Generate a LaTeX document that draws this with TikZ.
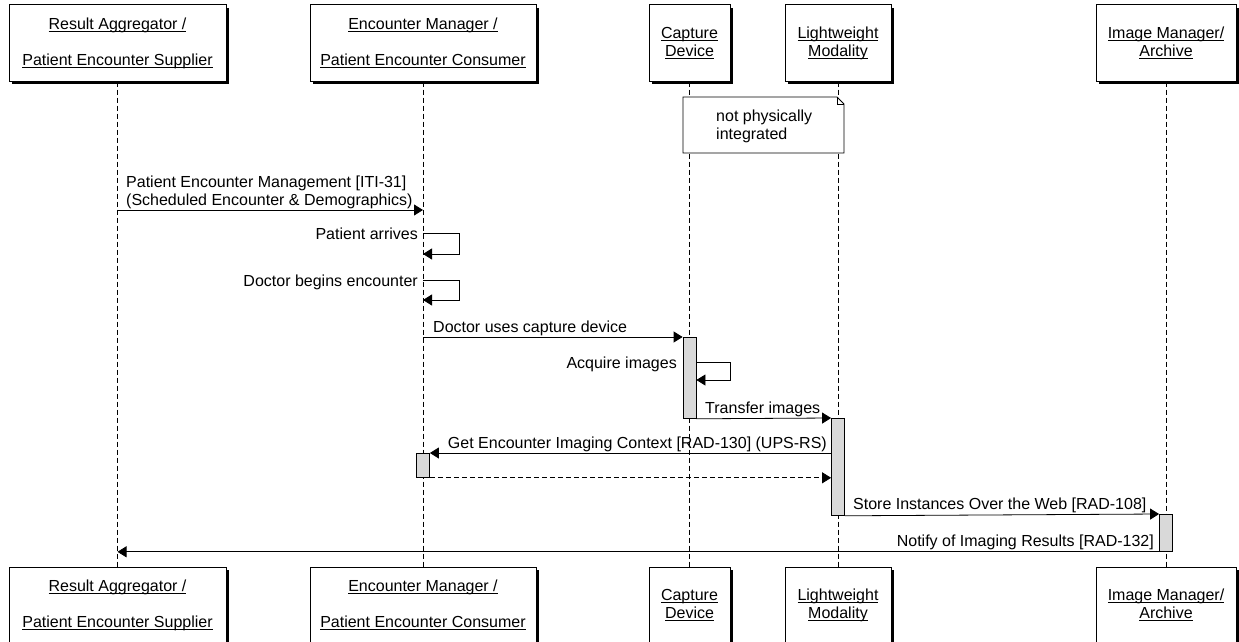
\documentclass[tikz,border=0pt]{standalone}
\usepackage{fontspec}
\setmainfont{Liberation Sans}
\usetikzlibrary{arrows.meta,shadows}
\newcommand{\uln}[1]{\setbox0\hbox{#1}\rlap{\rule[-2.5pt]{\wd0}{0.8pt}}\box0}

\begin{document}
\begin{tikzpicture}[x=1pt,y=-1pt,
    font=\fontsize{16}{18}\selectfont,
    actor/.style={draw, fill=white, line width=1pt, minimum height=76, align=center, inner sep=0,
      drop shadow={shadow xshift=3pt, shadow yshift=-3pt, fill=black, opacity=1}},
    lifeline/.style={line width=0.8pt, dash pattern=on 5pt off 3pt},
    msg/.style={line width=0.8pt, -{Triangle[length=9pt,width=11pt]}},
    reply/.style={msg, dash pattern=on 5pt off 3pt},
    actbar/.style={draw, fill=black!15, line width=0.8pt, minimum width=13, inner sep=0, anchor=north},
    lbl/.style={inner sep=0}]
    \useasboundingbox (0,0) rectangle (1239,642);

    \node[actor, minimum width=217] (ra) at (117.5,43) {\uln{Result Aggregator /}\\[18pt]\uln{Patient Encounter Supplier}};
    \node[actor, minimum width=226] (em) at (423,43) {\uln{Encounter Manager /}\\[18pt]\uln{Patient Encounter Consumer}};
    \node[actor, minimum width=81] (cd) at (689.5,43) {\uln{Capture}\\\uln{Device}};
    \node[actor, minimum width=106] (lm) at (838,43) {\uln{Lightweight}\\\uln{Modality}};
    \node[actor, minimum width=140] (im) at (1166,43) {\uln{Image Manager/}\\\uln{Archive}};

    \node[actor, minimum width=217] (ra2) at (117.5,605) {\uln{Result Aggregator /}\\[18pt]\uln{Patient Encounter Supplier}};
    \node[actor, minimum width=226] (em2) at (423,605) {\uln{Encounter Manager /}\\[18pt]\uln{Patient Encounter Consumer}};
    \node[actor, minimum width=81] (cd2) at (689.5,605) {\uln{Capture}\\\uln{Device}};
    \node[actor, minimum width=106] (lm2) at (838,605) {\uln{Lightweight}\\\uln{Modality}};
    \node[actor, minimum width=140] (im2) at (1166,605) {\uln{Image Manager/}\\\uln{Archive}};

    \draw[lifeline] (ra) -- (ra2);
    \draw[lifeline] (em) -- (em2);
    \draw[lifeline] (cd) -- (cd2);
    \draw[lifeline] (lm) -- (lm2);
    \draw[lifeline] (im) -- (im2);

    \draw[line width=0.8pt, fill=white] (683,97) -- (837,97) -- (844,104) -- (844,153) -- (683,153) -- cycle;
    \draw[line width=0.6pt] (837,97) -- (837,104) -- (844,104);
    \node[lbl, align=left, anchor=west] (note) at (716,126) {not physically\\integrated};

    \node[actbar, minimum height=81] (cdbar) at (cd.south |- 0,337) {};
    \node[actbar, minimum height=97] (lmbar) at (lm.south |- 0,418) {};
    \node[actbar, minimum height=24] (embar) at (em.south |- 0,453) {};
    \node[actbar, minimum height=37] (imbar) at (im.south |- 0,514) {};

    \draw[msg] (ra.south |- 0,210) -- (em.south |- 0,210);
    \node[lbl, anchor=base west] (l1) at (126,187) {Patient Encounter Management [ITI-31]};
    \node[lbl, anchor=base west] (l1b) at (126,205) {(Scheduled Encounter \& Demographics)};

    \draw[msg] (em.south |- 0,233) -- ++(36,0) -- ++(0,21) -- ++(-36,0);
    \node[lbl, anchor=base east] (l2) at (418,239) {Patient arrives};
    \draw[msg] (em.south |- 0,280) -- ++(36,0) -- ++(0,20) -- ++(-36,0);
    \node[lbl, anchor=base east] (l3) at (418,286) {Doctor begins encounter};

    \draw[msg] (em.south |- cdbar.north) -- (cdbar.north west);
    \node[lbl, anchor=base west] (l4) at (433,332) {Doctor uses capture device};

    \draw[msg] (cdbar.east |- 0,362) -- ++(34,0) -- ++(0,18) -- (cdbar.east |- 0,380);
    \node[lbl, anchor=base east] (l5) at (677,368) {Acquire images};

    \draw[msg] (cdbar.south east) -- (lmbar.north west);
    \node[lbl, anchor=base west] (l6) at (705,413) {Transfer images};

    \draw[msg] (lmbar.west |- embar.north) -- (embar.north east);
    \node[lbl, anchor=base east] (l7) at (827,448) {Get Encounter Imaging Context [RAD-130] (UPS-RS)};
    \draw[reply] (embar.south east) -- (lmbar.west |- embar.south);

    \draw[msg] (lmbar.south east) -- (imbar.north west);
    \node[lbl, anchor=base west] (l8) at (853,509) {Store Instances Over the Web [RAD-108]};

    \draw[msg] (imbar.south west) -- (ra.south |- imbar.south);
    \node[lbl, anchor=base east] (l9) at (1154,546) {Notify of Imaging Results [RAD-132]};
  \end{tikzpicture}
\end{document}
